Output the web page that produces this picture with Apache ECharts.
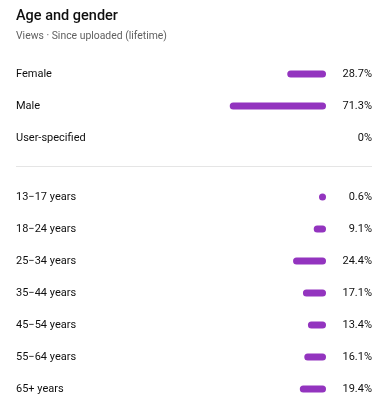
<!DOCTYPE html>
<html>
<head>
<meta charset="utf-8">
<script src="https://cdn.jsdelivr.net/npm/echarts@6/dist/echarts.min.js"></script>
<style>
html,body{margin:0;padding:0;background:#fff;}
#c{width:392px;height:405px;}
</style>
</head>
<body>
<div id="c"></div>
<script>
const genderCategories = ['Female', 'Male', 'User-specified'];
const genderValues = [28.7, 71.3, 0];
const ageCategories = ['13\u221217 years', '18\u221224 years', '25\u221234 years', '35\u221244 years', '45\u221254 years', '55\u221264 years', '65+ years'];
const ageValues = [0.6, 9.1, 24.4, 17.1, 13.4, 16.1, 19.4];

const PURPLE = '#9334bf';
const FONT = 'Roboto, "Noto Sans", sans-serif';

function fmt(v) { return v + '%'; }
function barData(vals) {
  return vals.map(v => v === 0 ? { value: v, itemStyle: { opacity: 0 } } : v);
}

const chart = echarts.init(document.getElementById('c'), null, { renderer: 'canvas' });

const grids = [
  { left: 191, right: 66, top: 58, height: 96 },
  { left: 191, right: 66, top: 181, height: 224 }
];

function xAxisFor(i) {
  return {
    type: 'value', gridIndex: i, min: 0, max: 100, inverse: true,
    show: false
  };
}
function leftY(i, cats) {
  return {
    type: 'category', gridIndex: i, data: cats, inverse: true, position: 'left',
    axisLine: { show: false, onZero: false }, axisTick: { show: false }, splitLine: { show: false },
    axisLabel: { align: 'left', margin: 175, color: '#0f0f0f', fontSize: 11, fontFamily: FONT }
  };
}
function rightY(i, vals) {
  return {
    type: 'category', gridIndex: i, data: vals.map(fmt), inverse: true, position: 'right',
    axisLine: { show: false, onZero: false }, axisTick: { show: false }, splitLine: { show: false },
    axisLabel: { align: 'right', margin: 46, color: '#0f0f0f', fontSize: 11, fontFamily: FONT }
  };
}

chart.setOption({
  animation: false,
  title: {
    text: 'Age and gender',
    subtext: 'Views \u00b7 Since uploaded (lifetime)',
    left: 16, top: 9, padding: 0, itemGap: 7,
    textStyle: { fontSize: 14.5, fontWeight: 500, color: '#0f0f0f', fontFamily: FONT },
    subtextStyle: { fontSize: 10.4, color: '#606060', fontFamily: FONT }
  },
  grid: grids,
  xAxis: [xAxisFor(0), xAxisFor(1)],
  yAxis: [leftY(0, genderCategories), rightY(0, genderValues), leftY(1, ageCategories), rightY(1, ageValues)],
  graphic: [{
    type: 'line', shape: { x1: 16, y1: 166.5, x2: 372, y2: 166.5 },
    style: { stroke: '#e5e5e5', lineWidth: 1 }, silent: true
  }],
  series: [
    {
      type: 'bar', xAxisIndex: 0, yAxisIndex: 0, data: barData(genderValues),
      barWidth: 7, barMinHeight: 7,
      itemStyle: { color: PURPLE, borderRadius: 3.5 }
    },
    {
      type: 'bar', xAxisIndex: 1, yAxisIndex: 2, data: barData(ageValues),
      barWidth: 7, barMinHeight: 7,
      itemStyle: { color: PURPLE, borderRadius: 3.5 }
    }
  ]
});
</script>
</body>
</html>
